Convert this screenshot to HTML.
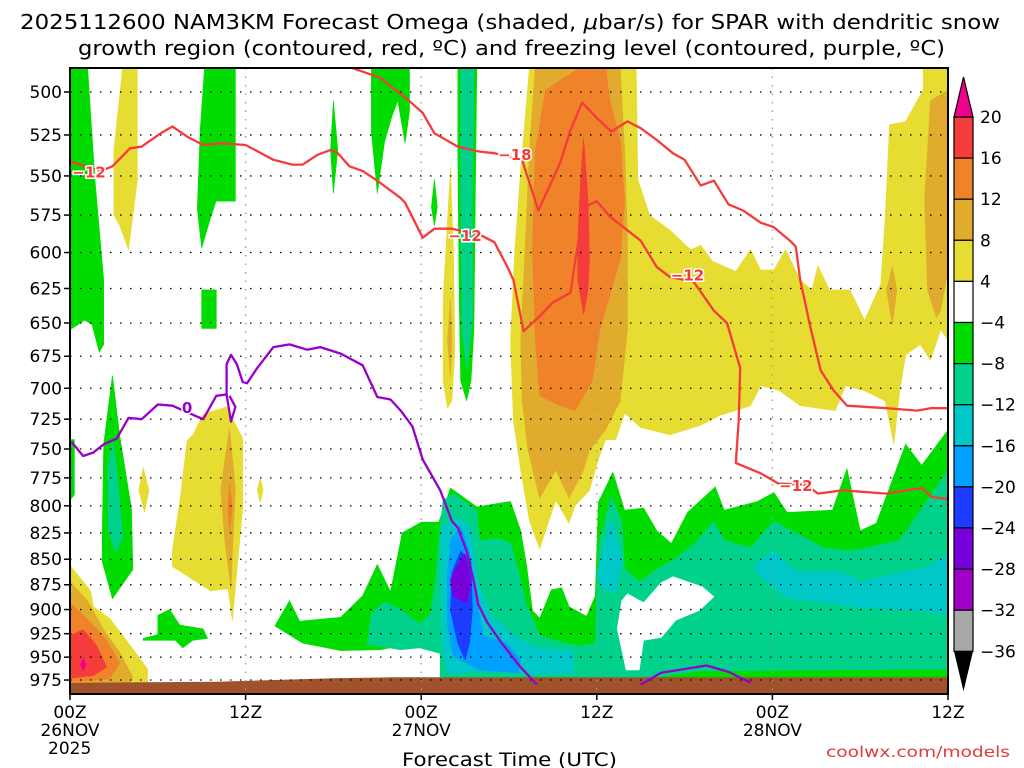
<!DOCTYPE html>
<html><head><meta charset="utf-8"><style>
html,body{margin:0;padding:0;background:#fff;width:1024px;height:768px;overflow:hidden}
svg{display:block;font-family:"DejaVu Sans","Liberation Sans",sans-serif}
</style></head><body>
<svg id="chart" width="1024" height="768" viewBox="0 0 1024 768" xmlns="http://www.w3.org/2000/svg">
<text x="20" y="29" font-size="20" textLength="980" lengthAdjust="spacingAndGlyphs">2025112600 NAM3KM Forecast Omega (shaded, <tspan font-style="italic">μ</tspan>bar/s) for SPAR with dendritic snow</text>
<text x="78" y="55" font-size="20" textLength="867" lengthAdjust="spacingAndGlyphs">growth region (contoured, red, ºC) and freezing level (contoured, purple, ºC)</text>
<defs><clipPath id="pc"><rect x="70" y="68" width="878" height="626"/></clipPath></defs>
<g id="plot" clip-path="url(#pc)"></g>
<g id="over"></g>
<text x="402" y="766" font-size="19" textLength="215" lengthAdjust="spacingAndGlyphs">Forecast Time (UTC)</text>
<text x="826" y="757" font-size="15" fill="#e03c3c" textLength="184" lengthAdjust="spacingAndGlyphs">coolwx.com/models</text>
</svg>
<script>
// ---- data (hours since 00Z 26NOV, pressure mb) ----
const pressureTicks=[500,525,550,575,600,625,650,675,700,725,750,775,800,825,850,875,900,925,950,975];
const timeTicks=[0,12,24,36,48,60];
const timeLabels=["00Z","12Z","00Z","12Z","00Z","12Z"];
const dateLabels=["26NOV","","27NOV","","28NOV",""];
const colorLevels=[20,16,12,8,4,-4,-8,-12,-16,-20,-24,-28,-32,-36];
const levelColors=["#f53c3c","#f0822a","#e1ab2d","#e6dc32","#ffffff","#00dc00","#00d28c","#00c8c8","#00a0ff","#1e3cff","#7800dc","#a000c8","#a8a8a8"];
const yellow1=[[31.4,486],[38.7,486],[38.8,552],[39.6,575],[41.0,585],[42.4,598],[43.1,595],[43.9,606],[45.5,613],[46.5,598],[47.2,612],[48.1,612],[48.9,598],[49.9,619],[50.7,626],[51.1,609],[51.9,626],[53.3,626],[54.3,648],[55.4,622],[55.7,578],[56.0,519],[57.1,517],[58.3,499],[58.3,486],[60,486],[60,663],[59.5,655],[58.8,678],[58.1,666],[57.1,674],[56.7,702],[56.3,746],[55.7,710],[54.3,702],[53.0,698],[52.3,718],[49.9,714],[48.5,702],[47.2,698],[46.5,714],[44.4,722],[43.1,730],[41.0,738],[39.0,732],[37.9,720],[37.3,742],[36.6,742],[36.1,759],[35.5,786],[34.5,800],[34.1,816],[33.2,795],[32.5,823],[32.1,840],[31.4,814],[30.8,768],[30.3,726],[30.1,663],[30.4,598],[30.8,546]];
const dkyellow1=[[31.8,486],[37.6,486],[37.9,534],[38.1,592],[38.1,655],[37.6,710],[36.6,734],[35.5,751],[35.1,768],[34.1,793],[33.2,768],[32.1,793],[31.3,751],[30.9,710],[30.8,663],[31.1,598],[31.4,534]];
const orange1=[[32.5,499],[34.9,486],[36.6,486],[36.9,505],[37.6,528],[37.9,565],[37.6,605],[36.2,655],[35.7,694],[34.5,718],[33.5,714],[32.1,706],[31.8,663],[31.6,598],[31.8,534]];
const red1=[[35.1,527],[35.4,565],[35.5,605],[35.4,626],[35.1,644],[34.7,619],[34.7,592],[34.9,552]];
const dkyellow2=[[58.8,505],[60,499],[60,612],[59.5,641],[59.2,646],[58.6,626],[58.4,565]];
const dkyellow3=[[56.2,610],[56.5,626],[56.2,651],[55.8,626]];
const yellow2=[[26.0,545],[26.2,598],[26.3,670],[26.1,710],[25.8,716],[25.5,694],[25.5,633],[25.8,578]];
const dkyellow4=[[26.0,633],[26.1,663],[26.0,690],[25.8,663]];
const yellow3=[[3.6,486],[4.6,486],[4.6,553],[4.0,598],[3.4,582],[3.0,575],[3.0,534]];
const yellow4=[[9.1,721],[10.7,715],[11.8,741],[11.8,802],[11.1,911],[10.8,879],[9.6,881],[7.0,857],[7.0,842],[7.5,796],[8.0,743],[8.4,738]];
const dkyellow5=[[10.9,733],[11.3,785],[11.1,842],[11.0,879],[10.6,834],[10.3,785]];
const orange2=[[10.9,780],[11.1,801],[10.9,824],[10.8,801]];
const yellow5=[[5.0,766],[5.4,786],[5.1,806],[4.7,786]];
const yellow6=[[13.0,775],[13.2,786],[13.0,797],[12.8,786]];
const yellow7=[[0,856],[1.4,881],[1.6,897],[2.7,909],[4.1,937],[5.3,963],[5.3,977],[4.1,982],[0.9,988],[0,989]];
const dkyellow6=[[0,872],[1.2,891],[2.3,921],[3.4,945],[4.3,972],[3.9,983],[0,987]];
const orange3=[[0,893],[1.4,913],[2.5,932],[3.4,956],[2.7,974],[0,977]];
const red2=[[0,927],[0.9,921],[1.8,937],[2.5,961],[1.6,970],[0,973]];
const pink1=[[0.9,950],[1.1,958],[0.9,966],[0.7,958]];
const green1=[[0,486],[1.2,486],[1.7,552],[2.3,619],[2.3,666],[2.0,672],[1.5,651],[1.0,648],[0,655]];
const green2=[[9.2,486],[11.3,486],[11.3,566],[9.98,566],[9.6,577],[9.0,597],[8.7,571],[8.9,522]];
const green3=[[9.0,626],[10.0,626],[10.0,654],[9.0,654]];
const green4=[[18.0,505],[18.3,534],[18.0,561],[17.8,534]];
const green5=[[20.6,486],[23.2,486],[23.2,511],[22.9,530],[22.4,505],[22.0,514],[21.5,529],[21.0,561],[20.6,523]];
const green6=[[24.9,552],[25.1,570],[24.9,582],[24.7,570]];
const green7=[[26.5,486],[27.8,486],[27.7,565],[27.6,655],[27.4,694],[27.1,710],[26.7,694],[26.6,633],[26.5,534]];
const teal1=[[26.7,486],[27.6,486],[27.5,565],[27.5,648],[27.1,686],[26.8,655],[26.7,565]];
const green8=[[2.9,690],[3.4,739],[4.2,803],[4.3,860],[2.9,889],[2.2,852],[2.2,829],[2.3,746]];
const teal2=[[2.9,742],[3.2,766],[3.6,829],[3.1,844],[2.6,821],[2.6,766]];
const green9=[[0,742],[0.3,742],[0.3,790],[0,795]];
const green10=[[5.0,930],[6.0,926],[6.0,906],[6.8,900],[7.5,916],[9.1,920],[9.4,930],[8.4,932],[7.7,940],[7.2,932],[5.0,932]];
const greenMain=[[14.0,917],[15.0,891],[15.7,912],[18.5,908],[20.0,886],[21.0,855],[21.9,882],[22.7,825],[24.0,815],[25.2,815],[26.0,784],[27.8,801],[30.1,796],[30.8,823],[31.2,856],[31.6,901],[32.1,909],[32.9,880],[33.6,878],[34.1,897],[35.3,907],[35.9,886],[36.1,797],[37.1,770],[37.9,804],[39.2,802],[40.1,823],[41.1,835],[42.2,806],[44.1,783],[44.7,804],[47.0,796],[48.1,788],[49.0,806],[52.1,804],[53.1,767],[54.0,823],[55.1,816],[57.1,746],[58.2,764],[60,734],[60,980],[25.6,980],[25.3,941],[23.7,935],[21.2,942],[18.5,943],[15.9,935]];
const tealMain=[[20.3,936],[20.6,904],[21.5,892],[22.6,900],[23.9,915],[24.6,905],[25.0,870],[25.2,832],[25.5,795],[26.2,789],[27.8,804],[28.0,832],[29.3,830],[30.1,835],[30.6,859],[31.2,896],[32.1,927],[33.8,935],[34.9,938],[35.9,935],[36.0,882],[36.2,832],[37.0,791],[37.7,815],[37.9,859],[38.9,872],[40.2,859],[41.4,849],[42.7,835],[44.0,814],[44.7,832],[46.5,839],[48.1,814],[49.3,823],[51.5,839],[53.1,842],[54.1,840],[56.7,832],[58.6,795],[60,768],[60,963],[43.1,965],[39.0,974],[36.2,980],[25.3,980],[25.3,946],[23.9,940],[22.6,942]];
const hole1=[[39.2,893],[40.4,873],[41.2,867],[43.2,877],[44.0,887],[43.0,901],[41.4,911],[40.4,929],[39.2,932],[38.9,964],[38.0,964],[37.4,920],[37.7,891],[38.1,884]];
const cyan1=[[25.4,819],[26.5,811],[27.3,819],[27.6,838],[27.9,873],[28.8,907],[30.6,929],[31.9,940],[34.4,943],[34.4,968],[31.3,968],[28.0,965],[25.8,968],[25.4,933]];
const cyan2=[[36.4,842],[37.0,811],[37.7,850],[37.4,882],[36.4,879],[36.0,865]];
const cyan3=[[46.8,855],[48.1,842],[49.6,862],[52.4,862],[54.1,872],[56.1,865],[58.4,859],[60,845],[60,905],[57.9,901],[54.1,898],[49.0,888],[47.0,865]];
const ltblue1=[[26.0,832],[26.7,819],[27.3,842],[27.6,880],[28.3,927],[29.8,935],[30.8,953],[30.6,967],[28.0,964],[26.2,949],[25.8,917],[25.8,866]];
const blue1=[[26.7,842],[27.4,852],[27.5,901],[27.3,935],[27.0,953],[26.5,935],[26.0,901],[26.1,863]];
const purple1=[[27.0,845],[27.4,873],[27.1,893],[26.2,887],[26.0,870],[26.4,858]];
const groundTop=[[0,978],[10,977],[18,973],[22,972],[60,972]];
const dgzLineA=[[0,541],[2.1,547],[2.9,544],[4.1,533],[4.9,532],[6.2,524],[7.0,520],[8.0,526],[9.1,531],[10.3,530],[12.0,531],[13.9,540],[15.2,543],[15.9,543],[16.9,537],[17.8,534],[18.3,536],[19.1,544],[20.0,547],[21.0,553],[22.6,564],[22.9,567],[24.1,590],[24.9,584],[26.1,584],[28.0,588],[29.0,593],[29.9,610],[30.3,619],[31.0,656],[32.1,645],[33.0,635],[34.2,628],[34.4,614],[34.9,583],[35.1,570],[36.0,566],[36.9,576],[39.0,592],[40.1,610],[41.0,617],[42.6,620],[44.0,641],[44.9,650],[45.8,684],[45.7,726],[45.5,762],[47.2,771],[48.4,780],[50.3,781],[51.1,789],[52.8,786],[55.8,789],[58.2,784],[58.9,792],[60,794]];
const dgzLineB=[[19.1,486],[21.2,492],[22.1,498],[22.9,503],[24.1,512],[24.9,524],[26.5,532],[28.0,535],[29.0,536],[30.9,540],[31.1,546],[31.6,560],[32.0,572],[32.6,560],[33.5,542],[34.2,522],[35.0,506],[36.0,515],[37.0,523],[38.1,517],[39.0,521],[40.1,528],[41.2,536],[42.0,540],[43.1,556],[44.0,553],[45.0,568],[46.0,572],[47.2,580],[48.1,583],[49.2,592],[49.6,596],[49.9,619],[50.6,653],[51.3,686],[52.2,702],[53.1,714],[55.8,716],[57.9,718],[58.8,716],[60,716]];
const dgzLabels=[["−12",1.3,548],["−12",27.0,589],["−12",42.2,616],["−12",49.6,782],["−18",30.4,537]];
const frzLine1=[[0.1,744],[0.9,756],[1.6,753],[2.3,746],[3.2,741],[4.0,724],[4.9,725],[6.0,713],[7.0,714],[8.7,723],[9.1,725],[10.0,706],[10.7,705],[10.7,681],[11.0,674],[11.4,681],[11.8,695],[12.1,696],[12.8,684],[13.9,668],[15.0,666],[16.2,670],[17.1,668],[18.5,673],[20.0,682],[21.0,707],[21.9,709],[22.6,718],[23.4,731],[24.1,759],[25.3,786],[26.1,814],[26.5,820],[27.1,842],[27.6,872],[27.9,895],[28.5,913],[29.5,935],[30.8,961],[31.9,980]];
const frzLoop=[[10.7,705],[11.0,727],[11.3,715],[10.9,706]];
const frzLine2=[[39.0,980],[40.4,967],[43.5,959],[45.0,966],[46.5,978]];
const frzLabels=[["0",8.0,716]];

const X0=70,X1=948,Y0=92,KY=880.5,PBOT=994;
const xs=h=>X0+(X1-X0)*h/60;
const ys=p=>Y0+Math.log(p/500)*KY;
const NS="http://www.w3.org/2000/svg";
const plot=document.getElementById('plot');
const over=document.getElementById('over');
function mk(tag,attrs,parent){const e=document.createElementNS(NS,tag);for(const k in attrs)e.setAttribute(k,attrs[k]);parent.appendChild(e);return e;}
function pts(a){return a.map(d=>xs(d[0]).toFixed(1)+','+ys(d[1]).toFixed(1)).join(' ');}
function region(a,ci,name){
  const e=mk('polygon',{points:pts(a),fill:levelColors[ci],stroke:levelColors[ci],'stroke-width':0.6},plot);
  
  
}
const Y=3,DY=2,O=1,R=0,W=4,G=5,T=6,C=7,LB=8,B=9,P=10;
[[yellow1,Y],[dkyellow1,DY],[orange1,O],[red1,R],[dkyellow2,DY],[dkyellow3,DY],[yellow2,Y],[dkyellow4,DY],[yellow3,Y],[yellow4,Y],[dkyellow5,DY],[orange2,O],[yellow5,Y],[yellow6,Y],[yellow7,Y],[dkyellow6,DY],[orange3,O],[red2,R]].forEach(r=>region(r[0],r[1],'omega-rising-region'));
(function(){const e=mk('polygon',{points:pts(pink1),fill:'#f0008c'},plot);

})();
[[green1,G],[green2,G],[green3,G],[green4,G],[green5,G],[green6,G],[green7,G],[teal1,T],[green8,G],[teal2,T],[green9,G],[green10,G],[greenMain,G],[tealMain,T],[hole1,W],[cyan1,C],[cyan2,C],[cyan3,C],[ltblue1,LB],[blue1,B],[purple1,P]].forEach(r=>region(r[0],r[1],'omega-sinking-region'));
(function(){const a=groundTop.concat([[60,PBOT],[0,PBOT]]);const e=mk('polygon',{points:pts(a),fill:'#a0522d'},plot);

})();
pressureTicks.forEach(p=>{const e=mk('line',{x1:X0,x2:X1,y1:ys(p),y2:ys(p),stroke:'#000','stroke-width':1.3,'stroke-dasharray':'1.5,8.5'},plot);

});
timeTicks.slice(1,5).forEach(h=>{const e=mk('line',{x1:xs(h),x2:xs(h),y1:68,y2:694,stroke:'#999','stroke-width':1.3,'stroke-dasharray':'1.5,7'},plot);

});
function cline(a,col,name){const e=mk('polyline',{points:pts(a),fill:'none',stroke:col,'stroke-width':2.3,'stroke-linejoin':'round'},plot);

}
cline(dgzLineA,'#f53c3c','dgz-contour-minus12');
cline(dgzLineB,'#f53c3c','dgz-contour-minus18');
cline(frzLine1,'#9600c8','freezing-level-contour');
cline(frzLoop,'#9600c8','freezing-level-contour');
cline(frzLine2,'#9600c8','freezing-level-contour');
function clabel(l,col){const t=mk('text',{x:xs(l[1]),y:ys(l[2])+5,'text-anchor':'middle','font-size':15,'font-weight':'bold',fill:col,stroke:'#fff','stroke-width':3,'paint-order':'stroke'},plot);
t.textContent=l[0];

}
dgzLabels.forEach(l=>clabel(l,'#f53c3c'));
frzLabels.forEach(l=>clabel(l,'#9600c8'));
(function(){const e=mk('rect',{x:X0,y:68,width:X1-X0,height:626,fill:'none',stroke:'#000','stroke-width':2},over);

})();
pressureTicks.forEach(p=>{const y=ys(p);
const tk=mk('line',{x1:X0-6,x2:X0,y1:y,y2:y,stroke:'#000','stroke-width':1.5},over);


const t=mk('text',{x:62,y:y+6,'text-anchor':'end','font-size':17},over);t.textContent=p;

});
timeTicks.forEach((h,i)=>{const x=xs(h);
const tk=mk('line',{x1:x,x2:x,y1:694,y2:700,stroke:'#000','stroke-width':1.5},over);


const t=mk('text',{x:x,y:718,'text-anchor':'middle','font-size':17},over);t.textContent=timeLabels[i];


if(dateLabels[i]){const d=mk('text',{x:x,y:736,'text-anchor':'middle','font-size':17},over);d.textContent=dateLabels[i];

}});
(function(){const t=mk('text',{x:48,y:754,'font-size':17},over);t.textContent='2025';

})();
const CBX=954,CBW=19,CBT=117,CBH=41.1;
levelColors.forEach((c,i)=>{const e=mk('rect',{x:CBX,y:CBT+i*CBH,width:CBW,height:CBH,fill:c,stroke:'#000','stroke-width':1.2},over);

});
(function(){const a=mk('polygon',{points:`${CBX},${CBT} ${CBX+CBW},${CBT} ${CBX+CBW/2},${CBT-40}`,fill:'#f0008c',stroke:'#000','stroke-width':1.2},over);


const yb=CBT+13*CBH;
const b=mk('polygon',{points:`${CBX},${yb} ${CBX+CBW},${yb} ${CBX+CBW/2},${yb+40}`,fill:'#000'},over);

})();
colorLevels.forEach((v,i)=>{const t=mk('text',{x:980,y:CBT+i*CBH+6,'font-size':17},over);t.textContent=(v<0?'−'+(-v):String(v));

});
</script>
</body></html>
